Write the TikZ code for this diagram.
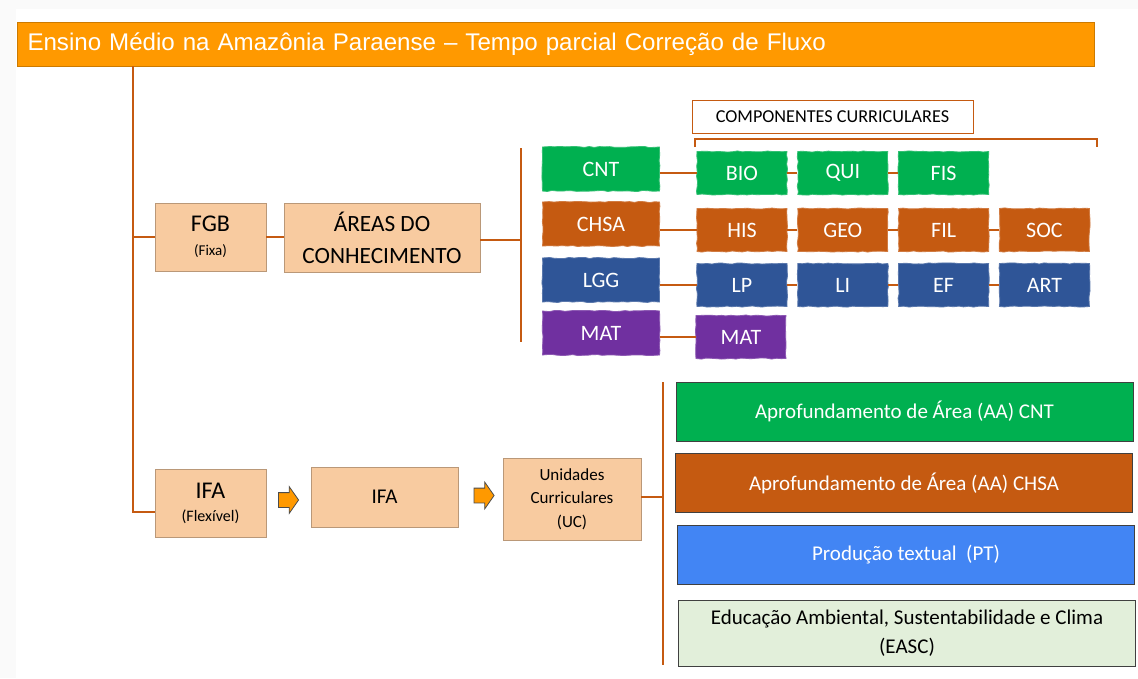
\documentclass[tikz,border=0pt]{standalone}
\usepackage{fontspec}
\setmainfont{Carlito}
\newfontfamily\titlefont{Liberation Sans}
\usepackage{xcolor}
\usetikzlibrary{shapes.arrows,positioning,decorations.pathmorphing}
\definecolor{laranja}{HTML}{FF9900}
\definecolor{linha}{HTML}{C55A11}
\definecolor{pessego}{HTML}{F8CBA0}
\definecolor{verde}{HTML}{00B050}
\definecolor{marrom}{HTML}{C55A11}
\definecolor{azulesc}{HTML}{2F5597}
\definecolor{roxo}{HTML}{7030A0}
\definecolor{azul}{HTML}{4285F4}
\definecolor{verdeclaro}{HTML}{E2EFDA}
\newcommand{\fs}[1]{\fontsize{#1}{#1}\selectfont\baselineskip=1.38\baselineskip}

\begin{document}
\begin{tikzpicture}[x=1pt, y=-1pt,
  box/.style={draw=pessego!75!black, fill=pessego, align=center, inner sep=0pt},
  pincel/.style={decorate, decoration={random steps, segment length=5pt, amplitude=0.6pt}},
  area/.style={pincel, draw=#1!80!white, line width=0.8pt, fill=#1, text=white, inner sep=0pt, minimum width=117pt, minimum height=44pt, font=\fs{22}},
  comp/.style={pincel, draw=#1!80!white, line width=0.8pt, fill=#1, text=white, inner sep=0pt, minimum width=90pt, minimum height=43pt, font=\fs{22}},
  itin/.style={draw=black!75, line width=1pt, fill=#1, text=white, inner sep=0pt, minimum width=457pt, minimum height=59pt, align=center, font=\fs{21}},
  link/.style={draw=linha, line width=2.6pt},
  fio/.style={draw=linha, line width=1.8pt},
  seta/.style={single arrow, draw=black!70, fill=laranja, line width=0.8pt, inner xsep=2pt, inner ysep=7pt, minimum height=20pt, single arrow head extend=6pt, single arrow tip angle=110}]
% Fundo
\useasboundingbox (0,0) rectangle (1138,678);
\fill[gray!4] (0,0) rectangle (1138,678);
\fill[white] (16,9) rectangle (1138,678);

% Titulo
\node[anchor=north west, fill=laranja, draw=laranja!80!black, line width=1pt, minimum width=1077pt, minimum height=44pt, text width=1057pt, align=left, text=white, font=\titlefont\fs{24.1}] (titulo) at (17,22) {Ensino Médio na Amazônia Paraense – Tempo parcial Correção de Fluxo};
\coordinate (tronco) at (133,66);

% FGB
\node[box, minimum width=111pt, minimum height=68pt, font=\fs{15}] (fgb) at (210.5,237) {{\fs{24}FGB}\\[3pt] (Fixa)};
\node[box, minimum width=196pt, minimum height=69pt, font=\fs{23.3}] (areas) at (382,237.5) {ÁREAS DO\\CONHECIMENTO};
\coordinate (chave) at (521,240);
\coordinate (chavetopo) at (521,148);
\coordinate (chavebase) at (521,342);

% Areas
\node[area=verde] (cnt) at (601,169) {CNT};
\node[area=marrom] (chsa) at (601,224) {CHSA};
\node[area=azulesc] (lgg) at (601,280) {LGG};
\node[area=roxo] (mat) at (601,333) {MAT};

% Componentes curriculares
\node[draw=linha, line width=1pt, fill=white, minimum width=281pt, minimum height=33pt, font=\fs{18.2}] (compcur) at (832.5,116.5) {COMPONENTES CURRICULARES};
\draw[fio] (695,147) -- (695,139) -- (1097,139) -- (1097,147);

\node[comp=verde] (bio) at (742,173) {BIO};
\node[comp=verde, right=10pt of bio] (qui) {QUI};
\node[comp=verde, right=10pt of qui] (fis) {FIS};

\node[comp=marrom] (his) at (742,230) {HIS};
\node[comp=marrom, right=10pt of his] (geo) {GEO};
\node[comp=marrom, right=10pt of geo] (fil) {FIL};
\node[comp=marrom, right=10pt of fil] (soc) {SOC};

\node[comp=azulesc] (lp) at (742,285) {LP};
\node[comp=azulesc, right=10pt of lp] (li) {LI};
\node[comp=azulesc, right=10pt of li] (ef) {EF};
\node[comp=azulesc, right=10pt of ef] (art) {ART};

\node[comp=roxo] (matc) at (741,337) {MAT};

% IFA
\node[box, minimum width=111pt, minimum height=68pt, font=\fs{16}] (ifaflex) at (210.5,503) {{\fs{24}IFA}\\[1pt] (Flexível)};
\node[seta] (seta1) at (286,500) {};
\node[box, minimum width=147pt, minimum height=60pt, font=\fs{21}] (ifa) at (384.5,497) {IFA};
\node[seta] (seta2) at (481.5,495.5) {};
\node[box, minimum width=138pt, minimum height=82pt, font=\fs{17}] (uc) at (572,499) {Unidades\\Curriculares\\(UC)};
\coordinate (chave2) at (663,497);
\coordinate (chave2topo) at (663,382);
\coordinate (chave2base) at (663,665);

\node[itin=verde] (aacnt) at (904.5,411.5) {Aprofundamento de Área (AA) CNT};
\node[itin=marrom] (aachsa) at (904,483) {Aprofundamento de Área (AA) CHSA};
\node[itin=azul] (pt) at (906,554.5) {Produção textual~~(PT)};
\node[itin=verdeclaro, text=black, minimum height=66pt, font=\fs{21}] (easc) at (907,633) {Educação Ambiental, Sustentabilidade e Clima\\(EASC)};

% Ligacoes
\draw[link] (tronco) |- ([yshift=-9pt]ifaflex.west);
\draw[link] (tronco |- fgb.west) -- (fgb.west);
\draw[link] (fgb.east) -- (fgb.east -| areas.west);
\draw[link] (areas.east |- chave) -- (chave);
\draw[fio] (chavetopo) -- (chavebase);

\draw[link] (cnt.east |- bio.west) -- (bio.west);
\draw[link] (bio) -- (qui);
\draw[link] (qui) -- (fis);
\draw[link] (chsa.east |- his.west) -- (his.west);
\draw[link] (his) -- (geo);
\draw[link] (geo) -- (fil);
\draw[link] (fil) -- (soc);
\draw[link] (lgg.east |- lp.west) -- (lp.west);
\draw[link] (lp) -- (li);
\draw[link] (li) -- (ef);
\draw[link] (ef) -- (art);
\draw[link] (mat.east |- matc.west) -- (matc.west);

\draw[link] (uc.east |- chave2) -- (chave2);
\draw[fio] (chave2topo) -- (chave2base);
\end{tikzpicture}
\end{document}
